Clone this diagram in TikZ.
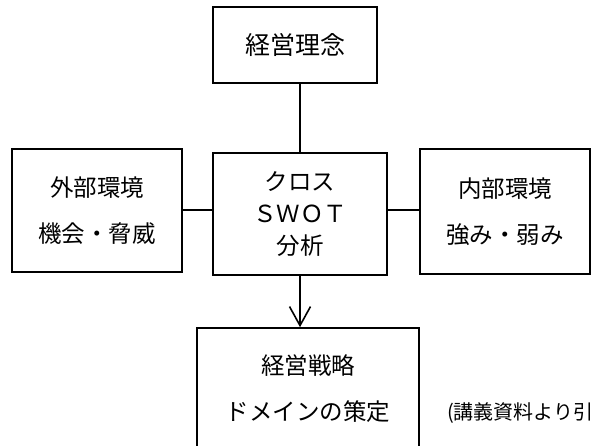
\documentclass[tikz,border=0pt]{standalone}
\usepackage{fontspec}
\newfontfamily\jp{Noto Sans CJK JP}
\usetikzlibrary{arrows.meta}
\tikzset{
  box/.style={draw, line width=1.6pt, rectangle, inner sep=0pt, align=center, font=\jp\fontsize{23.5}{46}\selectfont},
  conn/.style={line width=1.6pt},
}
\begin{document}
\begin{tikzpicture}[x=1pt,y=-1pt]
\useasboundingbox (0,0) rectangle (600,445);
\clip (0,0) rectangle (600,445);
\node[box, minimum width=164pt, minimum height=76pt, font=\jp\fontsize{25}{30}\selectfont] (top) at (295,45) {経営理念};
\node[box, minimum width=170pt, minimum height=123pt] (left) at (97,210.5) {外部環境\\機会・脅威};
\node[box, minimum width=174pt, minimum height=122pt, font=\jp\fontsize{23.5}{32}\selectfont] (ctr) at (300,214) {クロス\\ＳＷＯＴ\\分析};
\node[box, minimum width=170pt, minimum height=125pt] (right) at (505,211.5) {内部環境\\強み・弱み};
\node[box, minimum width=222pt, minimum height=122pt] (bot) at (308,389) {経営戦略\\ドメインの策定};
\node[anchor=west, inner sep=0pt, font=\jp\fontsize{20}{24}\selectfont] (note) at (447,413) {(講義資料より引};
\draw[conn] (top.south -| ctr.north) -- (ctr.north);
\draw[conn] (left.east |- 0,210) -- (ctr.west |- 0,210);
\draw[conn] (ctr.east |- 0,210) -- (right.west |- 0,210);
\draw[conn, -{Straight Barb[length=19pt,width=21pt,line width=1.6pt]}] (ctr.south) -- (ctr.south |- bot.north);
\end{tikzpicture}
\end{document}
